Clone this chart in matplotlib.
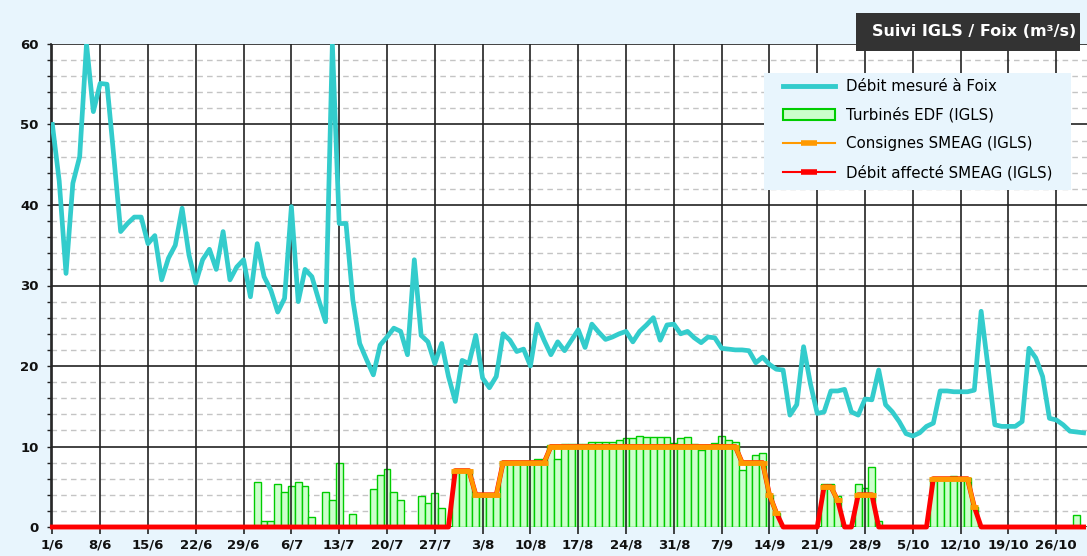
import matplotlib
matplotlib.use("Agg")
import matplotlib.pyplot as plt
import numpy as np
from matplotlib.lines import Line2D
from matplotlib.patches import Patch, Rectangle

# Daily values from 1/6 (index 0) to 30/10 (index 151)
debit_foix = [
    50, 43, 31.5, 42.7, 46, 60, 51.6, 55.1, 55, 46,
    36.7, 37.7, 38.5, 38.5, 35.2, 36.2, 30.7, 33.4, 35, 39.6,
    33.8, 30.3, 33.2, 34.5, 32, 36.7, 30.7, 32.3, 33.2, 28.6,
    35.2, 31.1, 29.4, 26.7, 28.4, 39.8, 28, 32, 31.1, 28.2,
    25.5, 60, 37.7, 37.7, 28.2, 22.8, 20.8, 18.9, 22.6, 23.6,
    24.7, 24.3, 21.4, 33.2, 23.8, 23, 20.3, 22.8, 18.7, 15.6,
    20.7, 20.3, 23.8, 18.5, 17.3, 18.7, 24, 23.2, 21.8, 22.1,
    20, 25.2, 23.2, 21.4, 23, 21.9, 23.2, 24.5, 22.3, 25.2,
    24.2, 23.3, 23.6, 24, 24.3, 23, 24.3, 25.1, 26, 23.2,
    25.1, 25.2, 24, 24.3, 23.5, 22.9, 23.6, 23.5, 22.2, 22.1,
    22, 22, 21.9, 20.4, 21.1, 20.2, 19.6, 19.5, 13.9, 15.2,
    22.4, 17.8, 14.1, 14.3, 16.9, 16.9, 17.1, 14.3, 13.9, 15.9,
    15.8, 19.5, 15.2, 14.3, 13.1, 11.6, 11.3, 11.7, 12.5, 12.9,
    16.9, 16.9, 16.8, 16.8, 16.8, 17, 26.8, 19.9, 12.7, 12.5,
    12.5, 12.5, 13.1, 22.2, 21, 18.7, 13.5, 13.3, 12.7, 11.9,
    11.8, 11.7,
]

turbines_edf = [
    0, 0, 0, 0, 0, 0, 0, 0, 0, 0,
    0, 0, 0, 0, 0, 0, 0, 0, 0, 0,
    0, 0, 0, 0, 0, 0, 0, 0, 0, 0,
    5.6, 0.8, 0.8, 5.3, 4.4, 5.1, 5.6, 5.1, 1.3, 0,
    4.4, 3.4, 8, 0, 1.6, 0, 0, 4.7, 6.5, 7.2,
    4.4, 3.4, 0, 0, 3.8, 3.0, 4.2, 2.4, 0, 7.1,
    7.1, 7.1, 3.8, 3.8, 3.8, 3.8, 8.2, 8.1, 8.1, 8.2,
    8.2, 8.45, 8.45, 10.2, 8.45, 10.3, 10.3, 10.3, 10.3, 10.6,
    10.6, 10.6, 10.6, 10.8, 11, 11, 11.3, 11.2, 11.2, 11.2,
    11.2, 10.4, 11, 11.2, 10.3, 9.6, 10.2, 10.4, 11.3, 10.8,
    10.5, 7.1, 7.8, 8.9, 9.2, 4.0, 1.8, 0, 0, 0,
    0, 0, 0, 5.4, 5.4, 3.8, 0, 0, 5.4, 4.9,
    7.4, 0.8, 0, 0, 0, 0, 0, 0, 0, 6.1,
    6.1, 6.1, 6.3, 6.1, 6.1, 2.5, 0, 0, 0, 0,
    0, 0, 0, 0, 0, 0, 0, 0, 0, 0,
    1.5, 0,
]

# Consignes SMEAG: (first day index, values)
consignes_segments = [
    (59, [7, 7, 7, 4, 4, 4, 4, 8, 8, 8, 8, 8, 8, 8,
          10, 10, 10, 10, 10, 10, 10, 10, 10, 10, 10, 10, 10, 10,
          10, 10, 10, 10, 10, 10, 10, 10, 10, 10, 10, 10, 10, 10,
          8, 8, 8, 8, 4, 1.8]),
    (113, [5, 5, 3.3]),
    (118, [4, 4, 4]),
    (129, [6, 6, 6, 6, 6, 6, 2.5]),
]

tick_days = [0, 7, 14, 21, 28, 35, 42, 49, 56, 63, 70, 77, 84, 91,
             98, 105, 112, 119, 126, 133, 140, 147]
tick_labels = ["1/6", "8/6", "15/6", "22/6", "29/6", "6/7", "13/7", "20/7",
               "27/7", "3/8", "10/8", "17/8", "24/8", "31/8", "7/9", "14/9",
               "21/9", "28/9", "5/10", "12/10", "19/10", "26/10"]

legend_labels = ["Débit mesuré à Foix", "Turbinés EDF (IGLS)",
                 "Consignes SMEAG (IGLS)", "Débit affecté SMEAG (IGLS)"]
title = "Suivi IGLS / Foix (m³/s)"

bg = "#E8F5FD"
cyan = "#33CCCC"
orange = "#FF9900"
red = "#FF0000"

W, H = 1087, 556

days = np.arange(len(debit_foix))
consignes = np.full(len(days), np.nan)
for start, vals in consignes_segments:
    consignes[start:start + len(vals)] = vals
affecte = np.where(np.isnan(consignes), 0, consignes)

fig = plt.figure(figsize=(W / 100, H / 100), dpi=100, facecolor=bg)
ax = fig.add_axes([51 / W, 1 - 527 / H, 1 - 51 / W, (527 - 44) / H])
ax.set_facecolor("white")

# grid
ax.set_yticks(range(0, 61, 10))
ax.set_yticks(np.arange(0, 61, 2), minor=True)
ax.set_xticks(tick_days)
ax.set_xticklabels(tick_labels)
ax.grid(which="minor", axis="y", color="#c4c4c4", ls=(0, (4, 3)), lw=1, zorder=0)
ax.grid(which="major", axis="y", color="#222222", lw=1.2, zorder=0.5)
ax.set_axisbelow(True)
for d in tick_days:
    ax.axvline(d, color="#222222", lw=1.2, zorder=2.5)

ax.bar(days, turbines_edf, width=1.0, color="#CCFFCC", edgecolor="#00CC00",
       linewidth=1.0, zorder=2)
ax.plot(days, debit_foix, color=cyan, lw=3.4, zorder=4)
ax.plot(days, affecte, color=red, lw=3.5, zorder=3, clip_on=False)
ax.plot(days, consignes, color=orange, lw=3, marker="_", ms=6, mew=3.5,
        zorder=3.5, clip_on=False)

ax.set_xlim(-0.2, 151.5)
ax.set_ylim(0, 60)
for s in ["top", "right", "bottom"]:
    ax.spines[s].set_visible(False)
ax.spines["left"].set_color("#222222")
ax.spines["left"].set_linewidth(1.2)
ax.tick_params(axis="y", which="both", length=3, width=1, color="#222222", pad=6)
ax.tick_params(axis="x", length=5, width=1.2, color="#222222", pad=3)
for lab in ax.get_xticklabels() + ax.get_yticklabels():
    lab.set_fontsize(9.5)
    lab.set_fontweight("bold")
    lab.set_color("#111111")

# legend background box
fig.patches.append(Rectangle((764 / W, 1 - 190 / H), (1071 - 764) / W, (190 - 73) / H,
                             transform=fig.transFigure, facecolor=bg,
                             edgecolor="none", zorder=9))
handles = [
    Line2D([], [], color=cyan, lw=3.5),
    Patch(facecolor="#CCFFCC", edgecolor="#00CC00", lw=1.5),
    Line2D([], [], color=orange, lw=1.5, marker="_", ms=12, mew=4),
    Line2D([], [], color=red, lw=1.5, marker="_", ms=12, mew=4),
]
leg = fig.legend(handles, legend_labels, loc="upper left",
                 bbox_to_anchor=(770 / W, 1 - 66 / H),
                 bbox_transform=fig.transFigure, fontsize=10.8,
                 frameon=False, handlelength=3.5, handletextpad=0.7,
                 labelspacing=0.9, borderpad=0.35, numpoints=1)
leg.set_zorder(10)

# title box
fig.patches.append(Rectangle((856 / W, 1 - 51 / H), (1080 - 856) / W, (51 - 13) / H,
                             transform=fig.transFigure, facecolor="#333333",
                             edgecolor="none", zorder=11))
fig.text(1076 / W, 1 - 32 / H, title, color="white", fontsize=11.5,
         fontweight="bold", ha="right", va="center", zorder=12)

fig.savefig("out.png", dpi=100, facecolor=bg)
